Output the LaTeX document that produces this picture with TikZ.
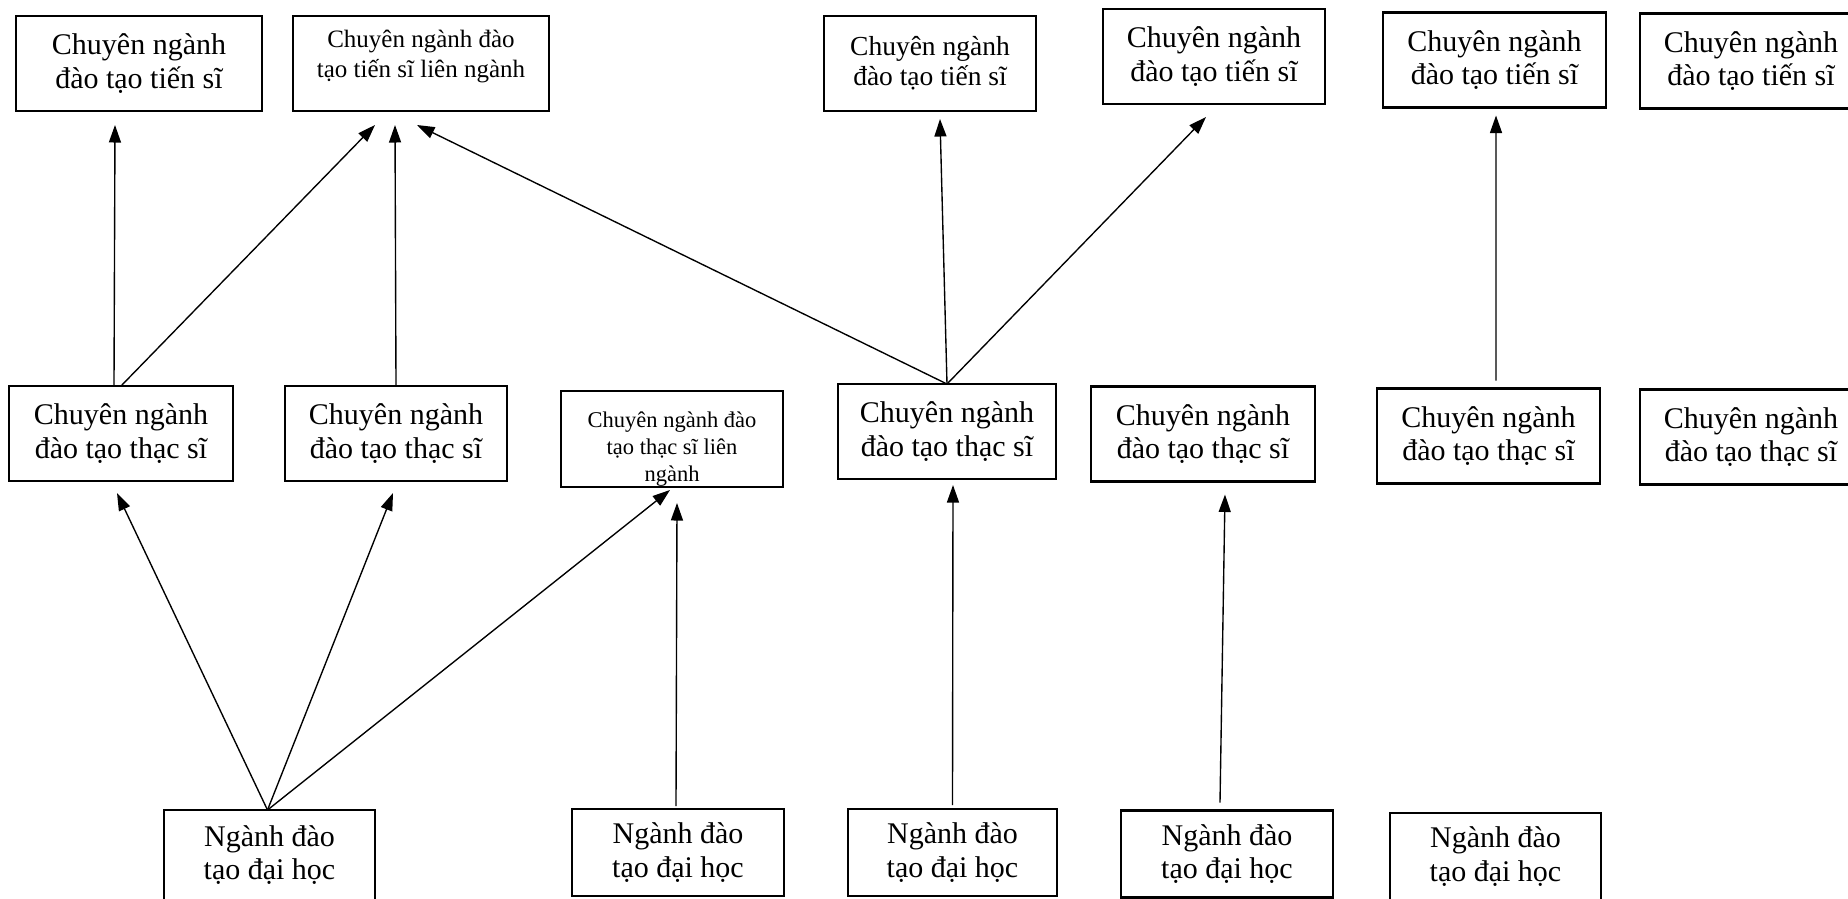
\documentclass[tikz,border=0pt]{standalone}
\usepackage{fontspec}
\setmainfont{Liberation Serif}
\usetikzlibrary{arrows.meta, positioning}

\begin{document}
\begin{tikzpicture}[
    box/.style={draw, line width=0.9pt, inner sep=0pt, outer sep=0pt, minimum height=38pt, align=center, font={\fontsize{12pt}{13.4pt}\selectfont}},
    midbox/.style={box, font={\fontsize{11pt}{12pt}\selectfont}},
    smallbox/.style={box, font={\fontsize{10pt}{12pt}\selectfont}},
    tinybox/.style={box, font={\fontsize{9pt}{10.8pt}\selectfont}},
    lowbox/.style={box, minimum height=34.8pt},
    arrow/.style={-{Triangle[length=7pt, width=4.8pt]}, line width=0.55pt}
]
\useasboundingbox (0,0) rectangle (739.2pt,-359.2pt);

% Tien si
\node[box, minimum width=98.4pt] (t1) at (55.6pt,-25.4pt) {Chuyên ngành\\đào tạo tiến sĩ};
\node[smallbox, minimum width=102.4pt, right=12.4pt of t1] (t2) {Chuyên ngành đào\\tạo tiến sĩ liên ngành\rule[-8pt]{0pt}{8pt}};
\node[midbox, minimum width=84.8pt, right=110pt of t2] (t3) {Chuyên ngành\\đào tạo tiến sĩ};
\node[box, minimum width=88.8pt, right=26.8pt of t3, yshift=2.8pt] (t4) {Chuyên ngành\\đào tạo tiến sĩ};
\node[box, minimum width=89.2pt, right=23.2pt of t4, yshift=-1.4pt] (t5) {Chuyên ngành\\đào tạo tiến sĩ};
\node[box, minimum width=88.8pt, right=13.6pt of t5, yshift=-0.4pt] (t6) {Chuyên ngành\\đào tạo tiến sĩ};

% Thac si
\node[box, minimum width=89.6pt, below=110pt of t1, xshift=-7.2pt] (m1) {Chuyên ngành\\đào tạo thạc sĩ};
\node[box, minimum width=88.8pt, right=20.8pt of m1] (m2) {Chuyên ngành\\đào tạo thạc sĩ};
\node[tinybox, minimum width=88.8pt, minimum height=38.4pt, right=21.6pt of m2, yshift=-2.2pt] (m3) {\rule{0pt}{14pt}Chuyên ngành đào\\tạo thạc sĩ liên\\ngành};
\node[box, minimum width=87.2pt, right=22pt of m3, yshift=3pt] (m4) {Chuyên ngành\\đào tạo thạc sĩ};
\node[box, minimum width=89.6pt, right=14pt of m4, yshift=-1pt] (m5) {Chuyên ngành\\đào tạo thạc sĩ};
\node[box, minimum width=89.2pt, right=24.8pt of m5, yshift=-0.8pt] (m6) {Chuyên ngành\\đào tạo thạc sĩ};
\node[box, minimum width=88.8pt, right=16pt of m6, yshift=-0.4pt] (m7) {Chuyên ngành\\đào tạo thạc sĩ};

% Dai hoc
\node[box, minimum width=84.4pt, minimum height=36pt, below=131.6pt of m1, xshift=59.4pt] (b1) {Ngành đào\\tạo đại học};
\node[lowbox, minimum width=84.8pt, right=78.8pt of b1, yshift=1pt] (b2) {Ngành đào\\tạo đại học};
\node[lowbox, minimum width=83.6pt, right=25.6pt of b2] (b3) {Ngành đào\\tạo đại học};
\node[lowbox, minimum width=84.8pt, right=25.6pt of b3, yshift=-0.6pt] (b4) {Ngành đào\\tạo đại học};
\node[lowbox, minimum width=84.4pt, right=22.8pt of b4, yshift=-1pt] (b5) {Ngành đào\\tạo đại học};

% Arrows
\draw[arrow] ([xshift=-2.8pt]m1.north) -- ([xshift=-9.6pt, yshift=-5.6pt]t1.south);
\draw[arrow] (m1.north) -- ([xshift=-18.4pt, yshift=-5.6pt]t2.south);
\draw[arrow] (m2.north) -- ([xshift=-10.4pt, yshift=-5.6pt]t2.south);
\draw[arrow] (m4.north) -- ([xshift=-1.6pt, yshift=-5.6pt]t2.south);
\draw[arrow] (m4.north) -- ([xshift=4pt, yshift=-3.2pt]t3.south);
\draw[arrow] (m4.north) -- ([xshift=-3.2pt, yshift=-5.2pt]t4.south);
\draw[arrow] ([xshift=3pt, yshift=3.2pt]m6.north) -- ([xshift=0.6pt, yshift=-3.2pt]t5.south);
\draw[arrow] ([xshift=-0.8pt]b1.north) -- ([xshift=-1.6pt, yshift=-4.8pt]m1.south);
\draw[arrow] ([xshift=-0.8pt]b1.north) -- ([xshift=-1.2pt, yshift=-4.8pt]m2.south);
\draw[arrow] ([xshift=-0.8pt]b1.north) -- ([xshift=-0.8pt, yshift=-1.2pt]m3.south);
\draw[arrow] ([xshift=-0.8pt, yshift=1.2pt]b2.north) -- ([xshift=2pt, yshift=-6.4pt]m3.south);
\draw[arrow] ([yshift=1.6pt]b3.north) -- ([xshift=2.4pt, yshift=-2.4pt]m4.south);
\draw[arrow] ([xshift=-2.8pt, yshift=3.2pt]b4.north) -- ([xshift=8.8pt, yshift=-5.2pt]m5.south);

\end{tikzpicture}
\end{document}
